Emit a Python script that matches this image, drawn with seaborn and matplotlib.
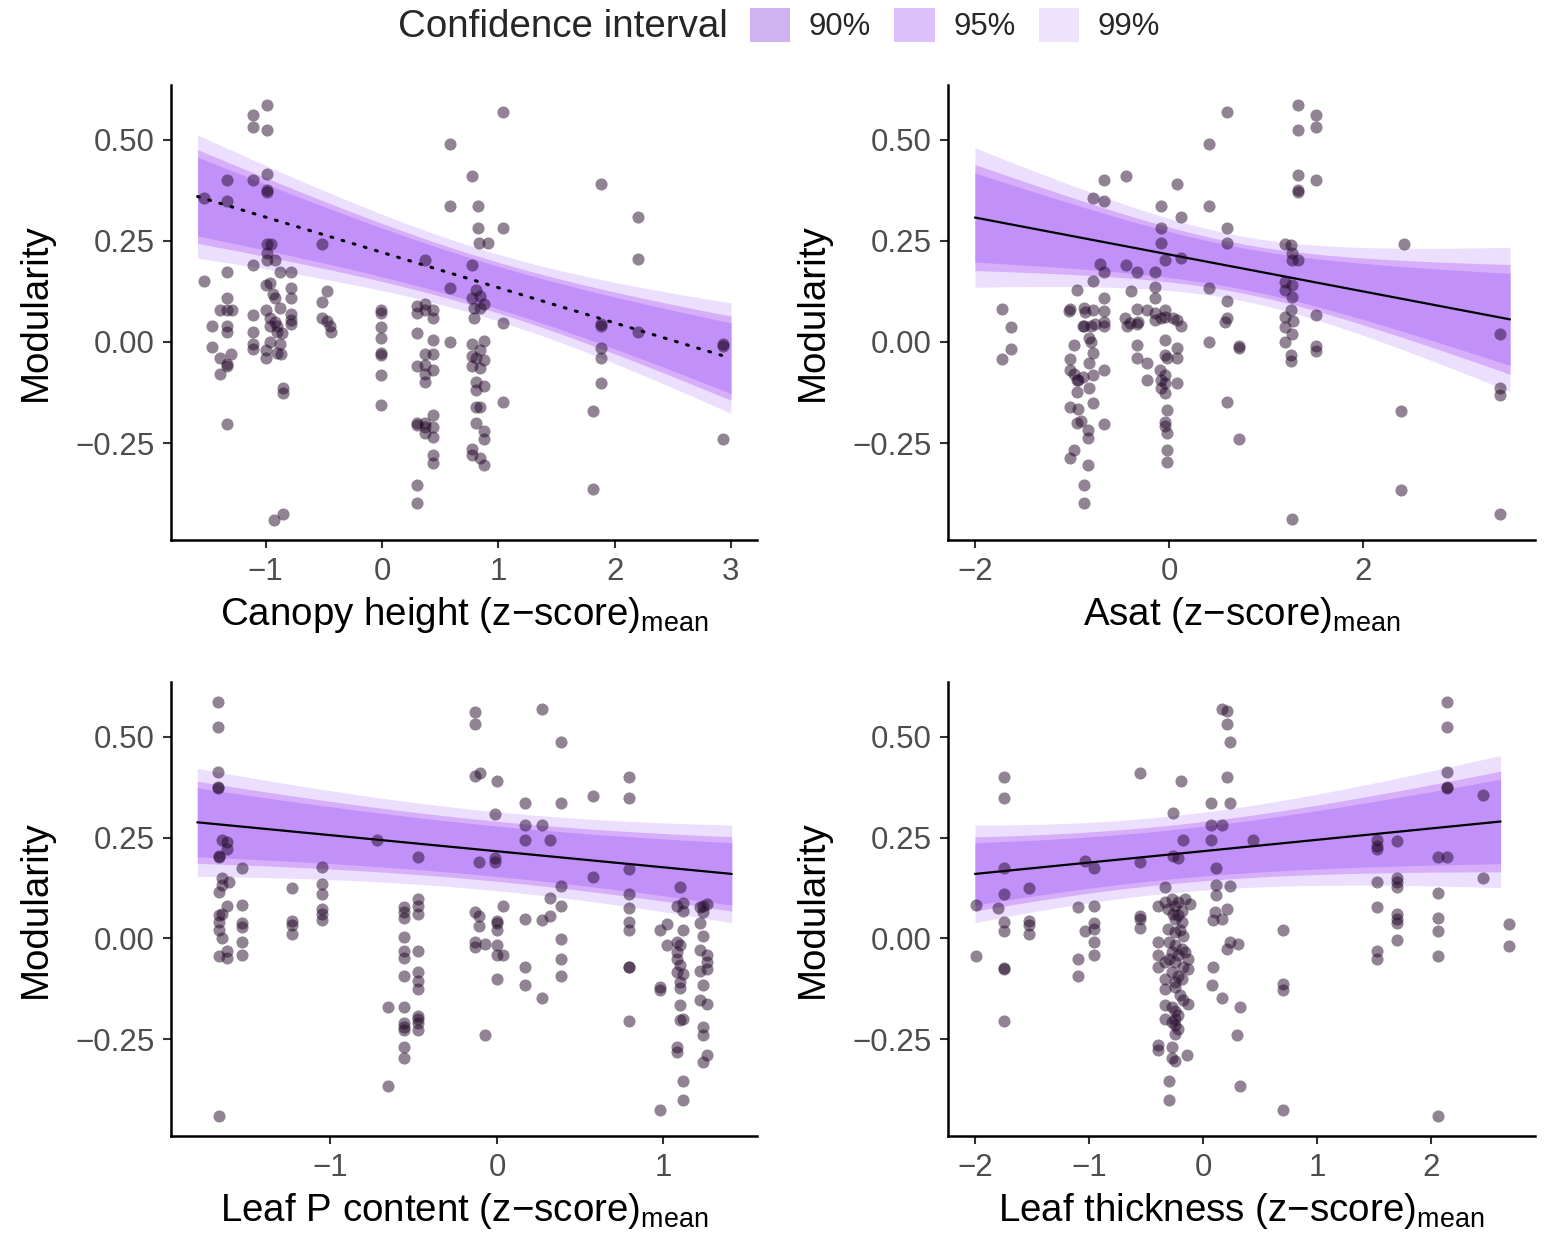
import numpy as np
import pandas as pd
import matplotlib
matplotlib.use("Agg")
import matplotlib.pyplot as plt
from matplotlib.patches import Patch
from matplotlib.ticker import FuncFormatter
import seaborn as sns

# ---------------- data ----------------
canopy_x = [-0.99, -1.11, -1.11, -0.99, 0.585, -0.99, -1.335, -1.11, -0.99, -0.99, -1.53, -1.335, 0.585,
            -0.52, -0.99, -0.95, -0.99, -0.99, -0.92, 0.37, -1.11, -1.335, -0.88, -0.785, -1.53, -1.0,
            -0.96, -0.785, -0.475, 0.585, -0.94, -0.92, -1.335, -0.785, -0.52, -0.01, -0.01, -1.39, -1.29,
            -1.335, -1.11, -1.0, -0.88, -0.785, -0.785, -0.785, -0.96, -0.92, -0.9, 0.30, 0.37, 0.30, 0.37,
            0.44, 0.44, -0.52, -0.475, -0.45, -0.44, -1.46, -1.335, -1.335, -1.11, -1.11, -1.11, -0.96,
            -0.9, -0.86, -0.96, -0.88, -0.01, -0.01, -0.01, -0.01, -0.01, -0.01, 0.30, 0.44, 0.585, -1.46,
            -1.0, -0.9, -1.0, -0.87, -1.3, -1.39, -1.335, -1.335, -1.39, 0.30, 0.37, 0.44, 0.37, 0.37, 0.44,
            0.37, -0.855, -0.855, -1.335, 0.30, 0.37, 0.37, 0.44, 0.30, 0.37, 0.44, 0.44, 0.44, 0.44, 0.30,
            0.30, -0.93, -0.855,
            1.043, 0.771, 1.88, 0.828, 2.20, 0.828, 1.043, 0.83, 0.91, 2.20, 0.771, 0.81, 0.84, 0.77, 0.88,
            0.79, 0.84, 0.79, 1.04, 1.88, 1.88, 2.20, 2.935, 2.935, 0.77, 0.88, 0.84, 0.77, 0.81, 0.88,
            0.77, 0.84, 0.81, 0.88, 0.81, 1.88, 1.88, 1.88, 1.04, 0.81, 0.84, 1.81, 0.81, 0.88, 0.88, 2.935,
            0.77, 0.77, 0.84, 0.88, 1.81]
canopy_y = [0.587, 0.562, 0.533, 0.525, 0.489, 0.415, 0.401, 0.401, 0.375, 0.372, 0.357, 0.350, 0.337,
            0.243, 0.243, 0.243, 0.220, 0.203, 0.203, 0.203, 0.191, 0.174, 0.174, 0.174, 0.152, 0.140,
            0.146, 0.133, 0.126, 0.133, 0.120, 0.110, 0.110, 0.110, 0.100, 0.080, 0.073, 0.080, 0.080,
            0.080, 0.068, 0.080, 0.083, 0.070, 0.055, 0.045, 0.060, 0.050, 0.040, 0.090, 0.095, 0.073, 0.080,
            0.078, 0.060, 0.060, 0.052, 0.040, 0.025, 0.040, 0.040, 0.025, 0.025, -0.005, -0.018, 0.040,
            0.025, 0.022, 0.000, -0.004, 0.038, 0.009, -0.028, -0.032, -0.082, -0.156, 0.022, 0.005, 0.000, -0.012,
            -0.020, -0.028, -0.040, -0.030, -0.030, -0.040, -0.055, -0.060, -0.080, -0.060, -0.057, -0.070, -0.080, -0.100, -0.030,
            -0.030, -0.115, -0.127, -0.204, -0.200, -0.200, -0.210, -0.210, -0.205, -0.225, -0.235, -0.180, -0.280, -0.300, -0.354,
            -0.399, -0.441, -0.426,
            0.568, 0.411, 0.391, 0.337, 0.310, 0.283, 0.283, 0.244, 0.244, 0.205, 0.190, 0.129, 0.115, 0.110, 0.095,
            0.085, 0.085, 0.060, 0.046, 0.044, 0.040, 0.024, -0.005, -0.011, -0.005, 0.002, -0.020, -0.035, -0.040, -0.045,
            -0.060, -0.065, -0.100, -0.110, -0.120, -0.016, -0.040, -0.102, -0.148, -0.160, -0.160, -0.170, -0.200, -0.220, -0.240, -0.240,
            -0.266, -0.280, -0.288, -0.305, -0.365]

asat_x = [0.595, 0.416, -0.667, -0.443, 0.079, -0.78, -0.667, -0.082, 0.416, 0.124, 0.595, -0.082, -0.082, 0.595,
          -0.04, 0.124, -0.71, -0.667, -0.443, -0.333, -0.144, -0.78, -0.144, 0.416, -0.945, -0.395, -0.144, -0.667,
          0.595, -1.72, -1.02, -0.88, -1.03, -0.78, -0.667, -0.87, -0.333, -0.23, -0.144, -0.04, -0.04, -0.144, -0.08,
          0.079, 0.124, 0.045, -0.45, -0.4, -0.43, -0.333, -0.32, -0.76, -0.667, -0.80, -0.667, -0.89, 0.595, 0.58,
          -1.63, -1.72, -1.63, 0.416, 0.72, 0.72, -0.98, -1.02, -1.02, -0.98, -0.94, -0.95, -1.02, -0.94, -0.95, -0.91,
          -0.83, -0.83, -0.98, -1.02, -0.83, -0.875, -0.875, -0.88, -0.82, -0.80, -0.78, -0.82, -0.78, -0.82, -0.78,
          -0.667, -0.667, -0.89, -0.945, -0.333, -0.333, -0.23, -0.23, -0.04, -0.04, -0.02, -0.09, -0.04, -0.08, -0.04,
          -0.02, -0.04, -0.04, -0.02, -0.02, -0.02, 0.079, 0.079, 0.079, -0.04, -0.08, 0.595, 0.72,
          1.327, 1.515, 1.515, 1.327, 1.327, 1.515, 1.327, 1.327, 2.426, 1.196, 1.258, 1.264, 1.264, 1.327, 1.196,
          1.196, 1.264, 1.27, 1.515, 1.258, 1.2, 1.28, 1.2, 1.27, 1.2, 1.515, 1.515, 1.258, 1.258, 3.41, 3.41, 3.41,
          2.39, 2.39, 1.264, 3.41]
asat_y = [0.570, 0.489, 0.401, 0.411, 0.391, 0.356, 0.350, 0.337, 0.337, 0.310, 0.283, 0.283, 0.244, 0.244,
          0.203, 0.207, 0.193, 0.174, 0.190, 0.174, 0.174, 0.152, 0.137, 0.133, 0.128, 0.126, 0.109, 0.109,
          0.102, 0.082, 0.082, 0.085, 0.077, 0.080, 0.077, 0.074, 0.082, 0.080, 0.071, 0.080, 0.063, 0.055, 0.060,
          0.055, 0.040, 0.060, 0.060, 0.048, 0.040, 0.045, 0.050, 0.045, 0.050, 0.040, 0.040, 0.040, 0.060, 0.050,
          0.038, -0.043, -0.018, 0.000, -0.010, -0.015, -0.007, -0.043, -0.069, -0.078, -0.094, -0.123, -0.160, -0.165, -0.201, -0.196,
          -0.218, -0.238, -0.267, -0.288, -0.304, -0.354, -0.399, 0.040, 0.009, 0.000, -0.028, -0.053, -0.082, -0.115, -0.152,
          -0.069, -0.204, -0.086, -0.094, -0.007, -0.040, -0.051, -0.094, 0.005, -0.032, -0.040, -0.069, -0.082, -0.115, -0.127,
          -0.168, -0.197, -0.209, -0.226, -0.267, -0.296, -0.015, -0.040, -0.102, -0.102, -0.094, -0.148, -0.239,
          0.587, 0.562, 0.533, 0.525, 0.413, 0.401, 0.375, 0.372, 0.243, 0.243, 0.241, 0.221, 0.204, 0.204, 0.149,
          0.129, 0.141, 0.112, 0.068, 0.078, 0.062, 0.052, 0.038, 0.019, 0.000, -0.010, -0.022, -0.032, -0.048, 0.019, -0.113, -0.130,
          -0.170, -0.366, -0.439, -0.426]

leafp_x = [-1.674, -1.674, -1.674, -1.674, -1.674, -1.654, -1.62, -1.62, -1.67, -1.67, -1.533, -1.65, -1.61, -1.65,
           -1.67, -1.62, -1.67, -1.65, -1.67, -1.67, -1.65, -1.67, -1.62, -1.62, -1.533, -1.533, -1.533, -1.533, -1.533,
           -1.233, -1.233, -1.233, -1.23, -1.053, -1.053, -1.053, -1.053, -1.053, -1.053, -0.719, -0.472, -0.472, -0.472,
           -0.472, -0.557, -0.557, -0.557, -0.557, -0.557, -0.557, -0.557, -0.472, -0.472, -0.472, -0.472, -0.653, -0.557,
           -0.557, -0.557, -0.557, -0.557, -0.557, -0.472, -0.472, -0.472, -0.472, -0.653, -1.67,
           -0.132, -0.132, 0.268, 0.382, -0.132, -0.102, 0.002, 0.795, 0.795, 0.578, 0.168, 0.382, -0.014, 0.168, 0.268,
           0.168, 0.318, -0.106, -0.012, -0.012, 0.578, 0.795, 0.382, 0.382, 0.318, 0.038, 0.168, 0.268, 0.318, 0.795,
           0.795, 0.795, 0.795, 1.1, -0.13, -0.11, -0.11, -0.13, -0.13, -0.07, 0.0, 0.0, 0.0, 0.0, 0.0, 0.038, 0.0,
           0.382, 0.382, 0.382, 0.168, 0.168, 0.268, 0.795, 0.795, 0.795, -0.072, 0.979, 1.02, 1.02, 0.979, 0.979,
           1.08, 1.12, 1.12, 1.08, 1.1, 1.12, 1.08, 1.08, 1.1, 1.08, 1.12, 1.1, 1.1, 1.1, 1.12, 1.1, 1.08, 1.08, 1.12,
           1.12, 0.979, 1.22, 1.26, 1.24, 1.22, 1.24, 1.22, 1.26, 1.26, 1.26, 1.22, 1.24, 1.22, 1.26, 1.24, 1.24, 1.26,
           1.24, 1.24]
leafp_y = [0.587, 0.525, 0.413, 0.375, 0.372, 0.243, 0.240, 0.222, 0.204, 0.201, 0.175, 0.149, 0.141, 0.132,
           0.114, 0.081, 0.057, 0.061, 0.041, 0.021, 0.000, -0.044, -0.032, -0.048, 0.083, 0.039, 0.028, -0.008, -0.041,
           0.125, 0.042, 0.034, 0.011, 0.176, 0.135, 0.110, 0.074, 0.061, 0.045, 0.243, 0.203, 0.098, 0.081,
           0.061, 0.077, 0.065, 0.051, 0.003, -0.032, -0.048, -0.093, -0.032, -0.083, -0.106, -0.126, -0.170, -0.169,
           -0.209, -0.220, -0.228, -0.269, -0.296, -0.192, -0.199, -0.209, -0.228, -0.366, -0.440,
           0.562, 0.531, 0.569, 0.488, 0.402, 0.410, 0.391, 0.401, 0.348, 0.354, 0.336, 0.337, 0.309, 0.281, 0.281,
           0.245, 0.243, 0.189, 0.200, 0.190, 0.152, 0.172, 0.131, 0.080, 0.100, 0.081, 0.047, 0.046, 0.055, 0.109,
           0.075, 0.040, 0.020, 0.127, 0.066, 0.055, 0.032, -0.008, -0.021, -0.013, 0.044, 0.038, 0.020, -0.017, -0.040, -0.041, -0.100,
           -0.001, -0.050, -0.094, -0.071, -0.116, -0.148, -0.072, -0.072, -0.205, -0.240, 0.020, 0.036, -0.017, -0.120, -0.128,
           0.080, 0.089, 0.069, -0.009, -0.017, 0.022, -0.034, -0.050, -0.067, -0.083, -0.087, -0.108, -0.124, -0.166, -0.199, -0.203,
           -0.269, -0.281, -0.354, -0.401, -0.426, 0.077, 0.085, 0.066, 0.039, 0.007, -0.029, -0.042, -0.058, -0.075, -0.082,
           -0.116, -0.153, -0.162, -0.220, -0.240, -0.290, -0.306, 0.081]

thick_x = [0.164, 0.208, 0.208, 0.237, -0.553, -1.75, -1.75, -0.193, 0.208, 0.237, 0.067, -0.26, 0.067, 0.164,
           0.067, -0.18, -1.035, -0.956, -0.553, -0.26, -0.22, 0.115, -1.75, -1.526, -1.75, 0.115, 0.115, 0.237, -0.333,
           -1.99, -1.795, -1.99, -1.75, -1.75, -1.75, -1.75, -1.75, -1.53, -1.53, -1.53, -1.1, -1.035, -1.1, -1.1,
           -0.956, -0.956, -0.956, -0.956, -0.956, -0.553, -0.553, -0.553, -0.392, -0.392, -0.392, -0.392, -0.392, -0.392,
           -0.333, -0.275, -0.217, -0.158, -0.114, -0.31, -0.246, -0.187, -0.217, -0.187, -0.246, -0.31, -0.246, -0.173,
           -0.30, -0.246, -0.187, -0.158, -0.275, -0.217, -0.129, -0.333, -0.246, -0.173, -0.129, -0.275, -0.217, -0.333,
           -0.246, -0.187, -0.333, -0.246, -0.173, -0.129, -0.333, -0.275, -0.217, -0.333, -0.246, -0.275, -0.246, -0.217,
           -0.246, -0.275, -0.143, -0.275, -0.246, -0.298, -0.298, 0.088, 0.079, 0.164, 0.208, 0.105, 0.164, 0.088,
           0.237, 0.208, 0.31, 0.327, 0.30, 0.327, -0.26, -0.2, -0.3, -0.2, -0.25,
           0.441, 0.699, 0.699, 0.699, 0.699, 1.524, 1.524, 1.524, 1.699, 1.524, 1.524, 1.524, 1.524, 1.699, 1.699,
           1.699, 1.699, 1.699, 1.699, 1.699, 2.059, 2.137, 2.137, 2.137, 2.137, 2.137, 2.137, 2.459, 2.459, 2.059,
           2.059, 2.059, 2.059, 2.059, 2.687, 2.687]
thick_y = [0.569, 0.564, 0.531, 0.488, 0.410, 0.401, 0.348, 0.391, 0.401, 0.337, 0.335, 0.310, 0.281, 0.281,
           0.245, 0.243, 0.191, 0.174, 0.189, 0.205, 0.200, 0.175, 0.175, 0.125, 0.109, 0.133, 0.108, 0.131, 0.127,
           0.082, 0.075, -0.043, 0.041, 0.019, -0.074, -0.077, -0.206, 0.042, 0.034, 0.011, 0.079, 0.018, -0.050, -0.094,
           0.081, 0.039, 0.024, -0.008, -0.041, 0.056, 0.048, 0.027, 0.081, -0.008, -0.042, -0.071, -0.265, -0.277,
           0.090, 0.098, 0.090, 0.098, 0.086, 0.073, 0.081, 0.069, 0.057, 0.040, 0.048, 0.024, 0.016, 0.007,
           -0.009, -0.017, -0.026, -0.034, -0.034, -0.042, -0.050, -0.059, -0.059, -0.071, -0.075, -0.083, -0.092, -0.100,
           -0.108, -0.100, -0.125, -0.120, -0.153, -0.162, -0.166, -0.170, -0.190, -0.199, -0.199, -0.207, -0.215, -0.224,
           -0.236, -0.269, -0.288, -0.296, -0.304, -0.354, -0.401, -0.071, -0.116, -0.148, 0.072, 0.065, 0.049, 0.045,
           -0.009, -0.026, -0.013, -0.170, -0.240, -0.366, 0.060, 0.020, -0.050, -0.140, -0.180,
           0.243, 0.020, -0.114, -0.129, -0.426, 0.243, 0.230, 0.221, 0.241, 0.141, 0.079, -0.032, -0.050, 0.149, 0.139,
           0.128, 0.061, 0.049, 0.039, -0.003, 0.203, 0.203, 0.587, 0.525, 0.413, 0.375, 0.372, 0.356, 0.150, 0.112,
           0.051, 0.018, -0.044, -0.440, 0.036, -0.018]

# fitted model summaries: x range, fitted values at the range ends, standard errors
fit_x_range = [(-1.585, 3.0), (-2.0, 3.515), (-1.80, 1.41), (-2.0, 2.61)]
fit_y_ends = [(0.360, -0.040), (0.308, 0.056), (0.288, 0.160), (0.160, 0.290)]
fit_se_mean = [0.032, 0.031, 0.038, 0.037]
fit_se_slope = [0.0201, 0.022, 0.0197, 0.0175]
fit_x_center = [0.89, 0.70, 0.00, -0.35]

x_titles = ["Canopy height", "Asat", "Leaf P content", "Leaf thickness"]
x_ticks = [[-1, 0, 1, 2, 3], [-2, 0, 2], [-1, 0, 1], [-2, -1, 0, 1, 2]]
x_limits = [(-1.814, 3.224), (-2.278, 3.773), (-1.958, 1.562), (-2.237, 2.912)]
y_ticks = [-0.25, 0.00, 0.25, 0.50]

ci_levels = ["99%", "95%", "90%"]
ci_z = [2.576, 1.960, 1.645]
ci_fill = ["#ECDEFD", "#D6AEFA", "#C190F8"]
ci_legend = {"90%": "#CFB2EF", "95%": "#DDC0FB", "99%": "#EDE3FC"}

# ---------------- style ----------------
sns.set_theme(style="ticks")
plt.rcParams["font.family"] = ["Liberation Sans", "DejaVu Sans"]
plt.rcParams["mathtext.fontset"] = "custom"
plt.rcParams["mathtext.rm"] = "Liberation Sans"
plt.rcParams["mathtext.it"] = "Liberation Sans:italic"

W, H = 1550, 1233
fig = plt.figure(figsize=(W / 100, H / 100), dpi=100)

# axes boxes in pixels: left, top, right, bottom
boxes = [(171, 85, 757, 540), (948, 85, 1535, 540), (171, 682, 757, 1136), (948, 682, 1535, 1136)]

datasets = [(canopy_x, canopy_y), (asat_x, asat_y), (leafp_x, leafp_y), (thick_x, thick_y)]

minus = lambda s: s.replace("-", "\u2212")

for i, (l, t, r, b) in enumerate(boxes):
    ax = fig.add_axes([l / W, 1 - b / H, (r - l) / W, (b - t) / H])
    xs, ys = datasets[i]
    df = pd.DataFrame({"x": xs, "y": ys})

    x0, x1 = fit_x_range[i]
    y0, y1 = fit_y_ends[i]
    xg = np.linspace(x0, x1, 200)
    fit = y0 + (y1 - y0) * (xg - x0) / (x1 - x0)
    se = np.sqrt(fit_se_mean[i] ** 2 + (fit_se_slope[i] * (xg - fit_x_center[i])) ** 2)
    for z, c in zip(ci_z, ci_fill):
        ax.fill_between(xg, fit - z * se, fit + z * se, color=c, linewidth=0, zorder=1)

    line_df = pd.DataFrame({"x": xg, "y": fit})
    if i == 0:
        sns.lineplot(data=line_df, x="x", y="y", ax=ax, color="black", linewidth=2.2,
                     linestyle=(0, (0.6, 3.2)), dash_capstyle="round", zorder=2)
    else:
        sns.lineplot(data=line_df, x="x", y="y", ax=ax, color="black", linewidth=1.6, zorder=2)

    sns.scatterplot(data=df, x="x", y="y", ax=ax, color="#24092B", alpha=0.5, s=76,
                    linewidth=0, legend=False, zorder=3)

    ax.set_xlim(*x_limits[i])
    ax.set_ylim(-0.49, 0.636)
    ax.set_xticks(x_ticks[i])
    ax.set_yticks(y_ticks)
    ax.xaxis.set_major_formatter(FuncFormatter(lambda v, p: minus(f"{v:.0f}")))
    ax.yaxis.set_major_formatter(FuncFormatter(lambda v, p: minus(f"{v:.2f}")))
    ax.tick_params(axis="both", length=6, width=1.5, color="#333333", labelsize=22.5,
                   labelcolor="#4D4D4D", pad=6)
    sns.despine(ax=ax)
    for s in ("left", "bottom"):
        ax.spines[s].set_linewidth(1.8)
        ax.spines[s].set_color("black")
    ax.set_xlabel(x_titles[i] + " (z\u2212score)$_{\\mathregular{mean}}$", fontsize=27.7,
                  color="black", labelpad=6)
    ax.set_ylabel("Modularity", fontsize=27.7, color="black", labelpad=15)

# legend on top
fig.text(398 / W, 1 - 27 / H, "Confidence interval", fontsize=27.7, ha="left", va="center")
handles = [Patch(facecolor=ci_legend[k], edgecolor="none", label=k) for k in ["90%", "95%", "99%"]]
fig.legend(handles=handles, loc="center left", bbox_to_anchor=(750 / W, 1 - 25 / H), ncol=3,
           frameon=False, fontsize=22.3, handlelength=1.3, handleheight=1.3,
           handletextpad=0.6, columnspacing=0.75, borderpad=0, borderaxespad=0)

fig.savefig("out.png", dpi=100)
